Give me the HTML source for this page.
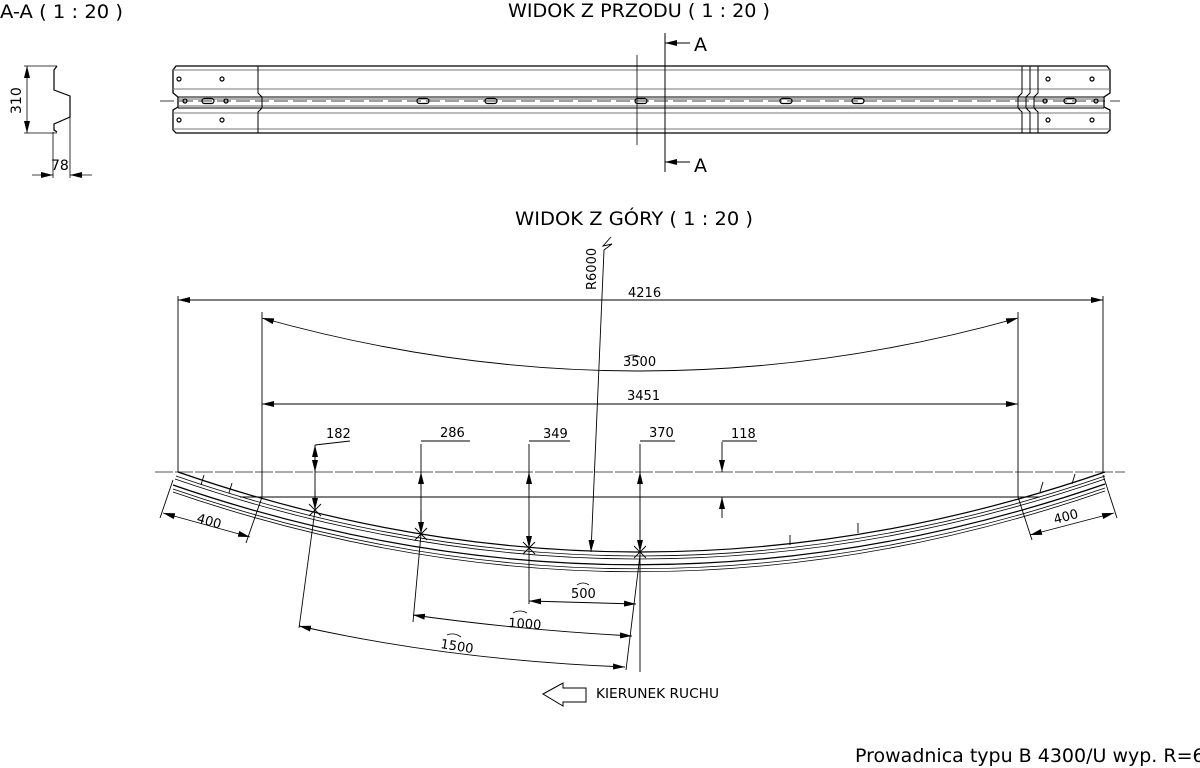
<!DOCTYPE html>
<html><head><meta charset="utf-8"><style>
html,body{margin:0;padding:0;background:#fff;}
svg{display:block;font-family:"DejaVu Sans","Liberation Sans",sans-serif;}
</style></head><body>
<svg width="1200" height="768" viewBox="0 0 1200 768" xmlns="http://www.w3.org/2000/svg">
<defs>
<marker id="a" viewBox="0 0 12 6" refX="12" refY="3" markerWidth="12" markerHeight="6" orient="auto-start-reverse" markerUnits="userSpaceOnUse"><path d="M0,0L12,3L0,6z" fill="#000"/></marker>
</defs>
<g fill="#000" font-size="19">
<text x="0" y="18" textLength="123" lengthAdjust="spacingAndGlyphs">A-A ( 1 : 20 )</text>
<text x="508" y="17" textLength="262" lengthAdjust="spacingAndGlyphs">WIDOK Z PRZODU ( 1 : 20 )</text>
<text x="515" y="225" textLength="238" lengthAdjust="spacingAndGlyphs">WIDOK Z GÓRY ( 1 : 20 )</text>
<text x="855" y="762">Prowadnica typu B 4300/U wyp. R=6</text>
<text x="694" y="51">A</text>
<text x="694" y="172">A</text>
</g>
<!-- section A-A -->
<g stroke="#000" fill="none" stroke-width="1.2">
<path d="M57,66 L54,70 L54,90 L70,96 L70,117 L54,124 L54,130 L57,132"/>
<line x1="53" y1="132" x2="53" y2="178" stroke-width="0.8"/>
<line x1="70" y1="117" x2="70" y2="178" stroke-width="0.8"/>
<line x1="24" y1="66" x2="57" y2="66" stroke-width="0.8"/>
<line x1="24" y1="133" x2="57" y2="133" stroke-width="0.8"/>
<line x1="27" y1="66" x2="27" y2="133" stroke-width="0.8" marker-start="url(#a)" marker-end="url(#a)"/>
<line x1="32" y1="175" x2="53" y2="175" stroke-width="0.8" marker-end="url(#a)"/>
<line x1="92" y1="175" x2="70" y2="175" stroke-width="0.8" marker-end="url(#a)"/>
</g>
<text x="21" y="114" font-size="14" transform="rotate(-90 21 114)">310</text>
<text x="51" y="170" font-size="14">78</text>
<!-- front view -->
<g stroke="#000" fill="none" stroke-width="1">
<path d="M176,66 L1107,66 L1110,70 L1110,93 L1104,97 L1104,107 L1110,110 L1110,130 L1107,133 L176,133 L173,130 L173,110 L178,107 L178,97 L173,93 L173,70 z" stroke-width="1.3"/>
<line x1="173" y1="70" x2="1110" y2="70" stroke="#777"/>
<line x1="173" y1="89" x2="1110" y2="89" stroke="#777"/>
<line x1="178" y1="97" x2="1104" y2="97"/>
<line x1="178" y1="99" x2="1104" y2="99" stroke="#666"/>
<line x1="178" y1="106" x2="1104" y2="106" stroke="#666"/>
<line x1="178" y1="108" x2="1104" y2="108"/>
<line x1="173" y1="113" x2="1110" y2="113" stroke="#777"/>
<line x1="173" y1="129" x2="1110" y2="129" stroke="#777"/>
<path d="M258,66 L258,93 L262,97 L262,108 L258,112 L258,133"/>
<path d="M1022,66 L1022,93 L1018,97 L1018,108 L1022,112 L1022,133"/>
<path d="M1030,66 L1030,93 L1026,97 L1026,108 L1030,112 L1030,133"/>
<path d="M1038,66 L1038,93 L1034,97 L1034,108 L1038,112 L1038,133"/>
<line x1="160" y1="101" x2="1120" y2="101" stroke-dasharray="14,5" stroke-width="0.8"/>
<line x1="637" y1="55" x2="637" y2="145" stroke-width="0.8"/>
<line x1="665" y1="33" x2="665" y2="172" stroke-width="1"/>
<line x1="690" y1="43" x2="665" y2="43" marker-end="url(#a)"/>
<line x1="690" y1="162" x2="665" y2="162" marker-end="url(#a)"/>
<g stroke-width="1.2">
<circle cx="179" cy="79" r="2"/><circle cx="222" cy="79" r="2"/><circle cx="179" cy="120" r="2"/><circle cx="222" cy="120" r="2"/>
<circle cx="185" cy="101" r="2"/><circle cx="226" cy="101" r="2"/>
<circle cx="1048" cy="79" r="2"/><circle cx="1092" cy="79" r="2"/><circle cx="1048" cy="120" r="2"/><circle cx="1092" cy="120" r="2"/>
<circle cx="1045" cy="101" r="2"/><circle cx="1096" cy="101" r="2"/>
<rect x="202" y="98.5" width="12" height="5" rx="2.5"/>
<rect x="417" y="98.5" width="12" height="5" rx="2.5"/>
<rect x="485" y="98.5" width="12" height="5" rx="2.5"/>
<rect x="635" y="98.5" width="12" height="5" rx="2.5"/>
<rect x="780" y="98.5" width="12" height="5" rx="2.5"/>
<rect x="852" y="98.5" width="12" height="5" rx="2.5"/>
<rect x="1064" y="98.5" width="12" height="5" rx="2.5"/>
</g>
</g>
<!-- top view -->
<g stroke="#000" fill="none" stroke-width="0.9">
<line x1="155" y1="472" x2="1125" y2="472" stroke="#555" stroke-dasharray="18,2"/>
<line x1="240" y1="497" x2="1040" y2="497"/>
<path d="M178,472 Q640,632 1105,472" stroke-width="1.2"/>
<path d="M176,476 Q640,636 1105,476" stroke-width="0.8"/>
<path d="M175,479 Q640,639 1105,479" stroke-width="0.8"/>
<path d="M173,485 Q638,645 1105,484" stroke-width="1.2"/>
<path d="M173,489 Q638,649 1105,488" stroke-width="0.8"/>
<path d="M173,492 Q638,652 1105,491" stroke-width="0.8"/>
<line x1="178" y1="296" x2="178" y2="472"/>
<line x1="1103" y1="296" x2="1103" y2="472"/>
<line x1="262" y1="312" x2="262" y2="497"/>
<line x1="1018" y1="312" x2="1018" y2="497"/>
<line x1="178" y1="300" x2="1103" y2="300" marker-start="url(#a)" marker-end="url(#a)"/>
<line x1="262" y1="404" x2="1018" y2="404" marker-start="url(#a)" marker-end="url(#a)"/>
<path d="M262,318 Q640,424 1018,318" marker-start="url(#a)" marker-end="url(#a)"/>
<path d="M611,237 L603,246 L612,244 L604,250 L591,552" marker-end="url(#a)"/>
<line x1="315" y1="445" x2="315" y2="472" marker-start="url(#a)" marker-end="url(#a)" />
<line x1="315" y1="445" x2="315" y2="510" />
<line x1="315" y1="490" x2="315" y2="510" marker-end="url(#a)"/>
<line x1="315" y1="445" x2="350" y2="441"/>
<line x1="421" y1="444" x2="421" y2="534"/>
<line x1="421" y1="490" x2="421" y2="472" marker-end="url(#a)"/>
<line x1="421" y1="510" x2="421" y2="534" marker-end="url(#a)"/>
<line x1="421" y1="441" x2="470" y2="441"/>
<line x1="529" y1="444" x2="529" y2="548"/>
<line x1="529" y1="490" x2="529" y2="472" marker-end="url(#a)"/>
<line x1="529" y1="520" x2="529" y2="548" marker-end="url(#a)"/>
<line x1="529" y1="441" x2="570" y2="441"/>
<line x1="640" y1="444" x2="640" y2="672"/>
<line x1="640" y1="490" x2="640" y2="472" marker-end="url(#a)"/>
<line x1="640" y1="520" x2="640" y2="552" marker-end="url(#a)"/>
<line x1="640" y1="441" x2="675" y2="441"/>
<line x1="722" y1="442" x2="722" y2="472" marker-end="url(#a)"/>
<line x1="722" y1="518" x2="722" y2="497" marker-end="url(#a)"/>
<line x1="722" y1="441" x2="757" y2="441"/>
<line x1="173" y1="480" x2="160" y2="518"/>
<line x1="262" y1="497" x2="246" y2="543"/>
<line x1="163" y1="513" x2="250" y2="537" marker-start="url(#a)" marker-end="url(#a)"/>
<line x1="1018" y1="497" x2="1032" y2="540"/>
<line x1="1103" y1="475" x2="1117" y2="518"/>
<line x1="1030" y1="535" x2="1114" y2="513" marker-start="url(#a)" marker-end="url(#a)"/>
<line x1="529" y1="548" x2="529" y2="604"/>
<line x1="421" y1="534" x2="413" y2="622"/>
<line x1="315" y1="510" x2="299" y2="628"/>
<line x1="640" y1="555" x2="626" y2="670"/>
<line x1="529" y1="601" x2="636" y2="604" marker-start="url(#a)" marker-end="url(#a)"/>
<path d="M413,615 Q520,630 632,636" marker-start="url(#a)" marker-end="url(#a)"/>
<path d="M299,626 Q450,660 625,667" marker-start="url(#a)" marker-end="url(#a)"/>
<path d="M309,504 l12,12 M321,504 l-12,12 M415,528 l12,12 M427,528 l-12,12 M523,542 l12,12 M535,542 l-12,12 M634,546 l12,12 M646,546 l-12,12"/>
<path d="M204,475 l-3,10 M232,483 l-3,10 M1040,492 l3,-10 M1072,484 l3,-10 M790,545 l0,-10 M858,533 l0,-10"/>
<path d="M543,694 L563,683 L563,688 L586,688 L586,702 L563,702 L563,706 z" stroke-width="1"/>
</g>
<g font-size="13" fill="#000">
<text x="628" y="297">4216</text>
<text x="623" y="366">3500</text>
<text x="627" y="400">3451</text>
<text x="326" y="438">182</text>
<text x="440" y="437">286</text>
<text x="543" y="438">349</text>
<text x="649" y="437">370</text>
<text x="731" y="438">118</text>
<text x="571" y="598">500</text>
<text x="508" y="627" transform="rotate(4 508 627)">1000</text>
<text x="440" y="648" transform="rotate(9 440 648)">1500</text>
<text x="196" y="522" transform="rotate(16 196 522)">400</text>
<text x="1055" y="524" transform="rotate(-15 1055 524)">400</text>
<text x="596" y="290" transform="rotate(-90 596 290)">R6000</text>
<text x="596" y="698" font-size="13" textLength="123" lengthAdjust="spacingAndGlyphs">KIERUNEK RUCHU</text>
</g>
<g stroke="#000" fill="none" stroke-width="0.8">
<path d="M626,357 Q633,353 640,357 M513,613 Q520,609 527,613 M447,635 Q454,632 461,637 M577,585 Q583,581 589,585"/>
</g>
</svg>
</body></html>
